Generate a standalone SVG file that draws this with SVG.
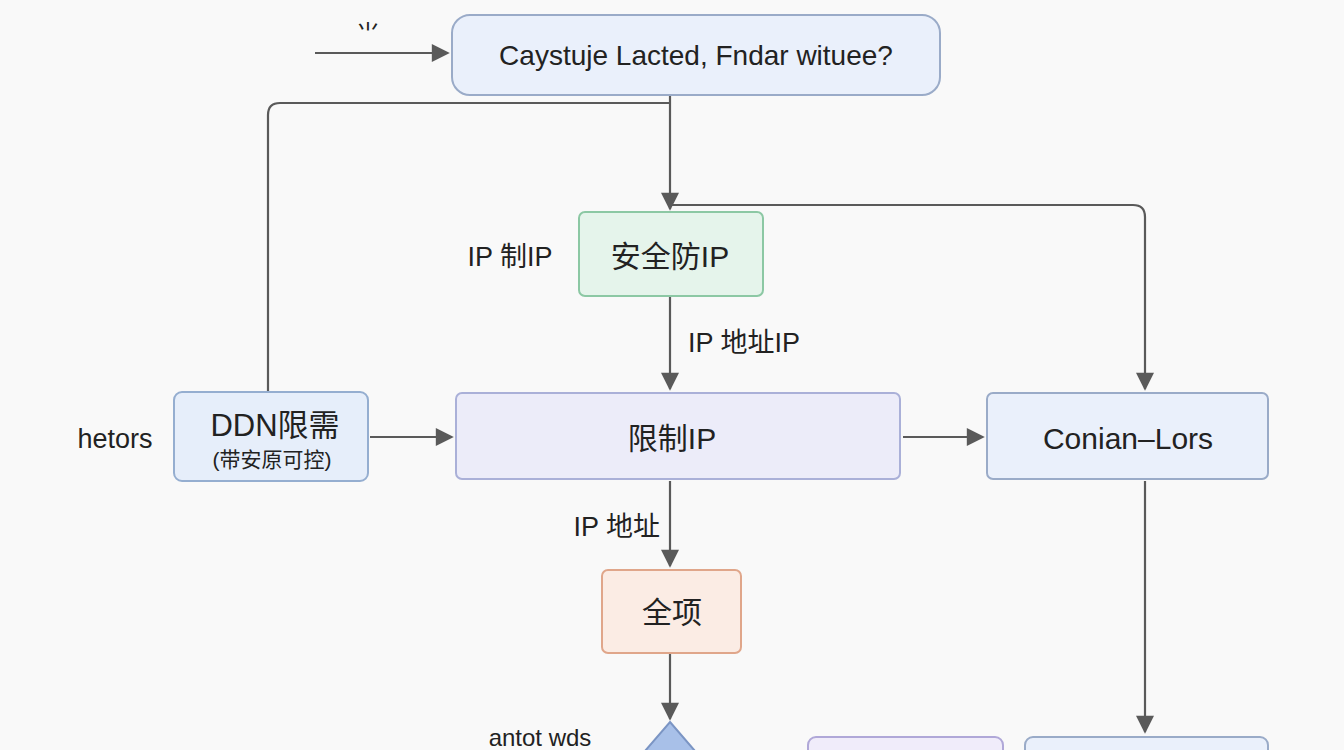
<svg xmlns="http://www.w3.org/2000/svg" width="1344" height="750" viewBox="0 0 1344 750">
<style>
text{font-family:"Liberation Sans","Noto Sans CJK SC",sans-serif;fill:#222;}
.c{stroke:#5a5a5a;stroke-width:2.2;fill:none;}
.a{marker-end:url(#ah);}
</style>
<defs>
<marker id="ah" viewBox="0 0 10 10" refX="9" refY="5" markerWidth="20" markerHeight="18" markerUnits="userSpaceOnUse" orient="auto"><path d="M0,0L10,5L0,10z" fill="#5a5a5a"/></marker>
</defs>
<rect width="1344" height="750" fill="#f9f9f9"/>
<g id="connectors">
<path class="c a" d="M315,53H448"/>
<path class="c a" d="M670,95V209"/>
<path class="c" d="M670,103H280Q268,103 268,115V392"/>
<path class="c a" d="M670,205H1133Q1145,205 1145,217V389"/>
<path class="c a" d="M670,296V389"/>
<path class="c a" d="M370,437H452"/>
<path class="c a" d="M903,437H983"/>
<path class="c a" d="M670,481V566"/>
<path class="c a" d="M670,653V719"/>
<path class="c a" d="M1145,481V732"/>
</g>
<g id="labels">
<text x="368" y="42" font-size="24" text-anchor="middle">⺌</text>
<text x="510" y="266" font-size="27" text-anchor="middle">IP 制IP</text>
<text x="688" y="352" font-size="27">IP 地址IP</text>
<text x="660" y="536" font-size="27" text-anchor="end">IP 地址</text>
<text x="115" y="448" font-size="27" text-anchor="middle">hetors</text>
<text x="540" y="746" font-size="24" text-anchor="middle">antot wds</text>
</g>
<g id="start">
<rect x="452" y="15" width="488" height="80" rx="18" fill="#eaf0fb" stroke="#9aabc8" stroke-width="2"/>
<text x="696" y="65" font-size="28" text-anchor="middle">Caystuje Lacted,  Fndar wituee?</text>
</g>
<g id="green">
<rect x="579" y="212" width="184" height="84" rx="6" fill="#e5f4eb" stroke="#8cc8a4" stroke-width="2"/>
<text x="670" y="267" font-size="30" text-anchor="middle">安全防IP</text>
</g>
<g id="ddn">
<rect x="174" y="392" width="194" height="89" rx="8" fill="#e6eefa" stroke="#95aed0" stroke-width="2"/>
<text x="275" y="436" font-size="31" text-anchor="middle">DDN限需</text>
<text x="272" y="467" font-size="21" text-anchor="middle">(带安原可控)</text>
</g>
<g id="main">
<rect x="456" y="393" width="444" height="86" rx="6" fill="#ececf9" stroke="#aab0d8" stroke-width="2"/>
<text x="672" y="449" font-size="30" text-anchor="middle">限制IP</text>
</g>
<g id="conian">
<rect x="987" y="393" width="281" height="86" rx="6" fill="#eaf0fb" stroke="#9aabc8" stroke-width="2"/>
<text x="1128" y="449" font-size="30" text-anchor="middle">Conian–Lors</text>
</g>
<g id="orange">
<rect x="602" y="570" width="139" height="83" rx="6" fill="#fbece4" stroke="#e0a68a" stroke-width="2"/>
<text x="672" y="623" font-size="30" text-anchor="middle">全项</text>
</g>
<g id="diamond">
<path d="M670,722L720,780L670,838L620,780z" fill="#a8c0e8" stroke="#7b95c4" stroke-width="2"/>
</g>
<g id="bottom1">
<rect x="808" y="737" width="195" height="60" rx="8" fill="#f0ecfa" stroke="#b0a8d8" stroke-width="2"/>
</g>
<g id="bottom2">
<rect x="1025" y="737" width="243" height="60" rx="8" fill="#eaf0fb" stroke="#9aabc8" stroke-width="2"/>
</g>
</svg>
